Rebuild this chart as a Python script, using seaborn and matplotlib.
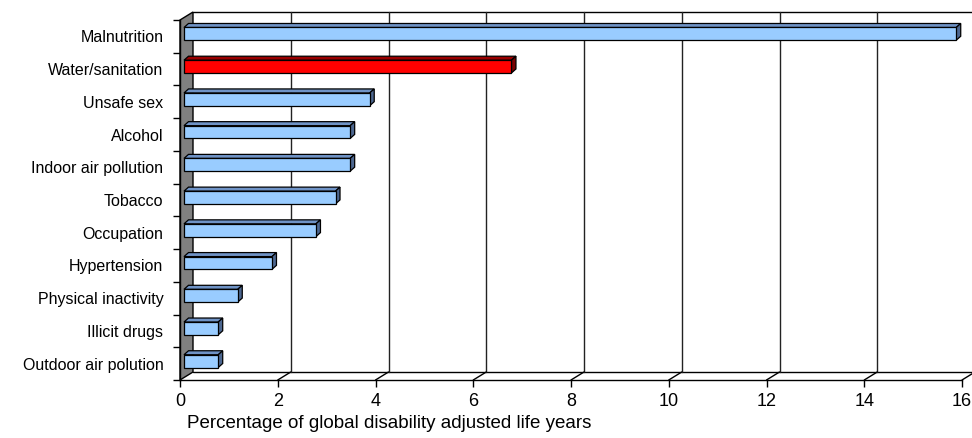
import numpy as np
import pandas as pd
import matplotlib
matplotlib.use('Agg')
import matplotlib.pyplot as plt
import matplotlib.transforms as mtransforms
from matplotlib.patches import Polygon
import seaborn as sns

# data
categories = ['Malnutrition', 'Water/sanitation', 'Unsafe sex', 'Alcohol',
              'Indoor air pollution', 'Tobacco', 'Occupation', 'Hypertension',
              'Physical inactivity', 'Illicit drugs', 'Outdoor air polution']
values = [15.8, 6.7, 3.8, 3.4, 3.4, 3.1, 2.7, 1.8, 1.1, 0.7, 0.7]
highlight = 'Water/sanitation'
xticks = [0, 2, 4, 6, 8, 10, 12, 14, 16]
xlabel = 'Percentage of global disability adjusted life years'

sns.set_style('white')
plt.rcParams['font.family'] = ['Liberation Sans', 'DejaVu Sans']
plt.rcParams['text.color'] = 'black'
plt.rcParams['axes.labelcolor'] = 'black'
plt.rcParams['xtick.color'] = 'black'
plt.rcParams['ytick.color'] = 'black'

df = pd.DataFrame({'risk': categories, 'pct': values})
front_col = {c: ('#ff0000' if c == highlight else '#99ccff') for c in categories}
top_col = {c: ('#990000' if c == highlight else '#6f93c6') for c in categories}
side_col = {c: ('#7a0000' if c == highlight else '#4d6790') for c in categories}

fig = plt.figure(figsize=(9.72, 4.38), dpi=100)
ax = fig.add_axes([180/972, 58/438, 782/972, 360/438])

sns.barplot(data=df, x='pct', y='risk', hue='risk', palette=front_col, legend=False,
            width=0.39, edgecolor='black', linewidth=0.9, saturation=1, orient='h', ax=ax)

ax.set_xlim(0, 16)
ax.set_ylim(10.5, -0.5)

# pixel -> data helpers for the fake depth
KX = 16/782
KY = 11/360
def P(x, y, dx, dy):
    return (x + dx*KX, y - dy*KY)

WX, WY = 13, 8        # wall depth in px
BF = (4, 2.5)         # bar front offset
BB = (8.5, 6.5)       # bar back offset

# grey side wall
ax.add_patch(Polygon([P(0, 10.5, 0, 0), P(0, -0.5, 0, 0), P(0, -0.5, WX, WY), P(0, 10.5, WX, WY)],
                     closed=True, facecolor='#808080', edgecolor='black', lw=1, zorder=0.5, clip_on=False))
# back wall top + floor back edge
for yy in (-0.5, 10.5):
    a, b = P(0, yy, WX, WY), P(16, yy, WX, WY)
    ax.plot([a[0], b[0]], [a[1], b[1]], color='black', lw=1, zorder=0.6, clip_on=False)
# gridlines on back wall and floor
for xt in xticks[1:]:
    a, b = P(xt, 10.5, WX, WY), P(xt, -0.5, WX, WY)
    ax.plot([a[0], b[0]], [a[1], b[1]], color='#222222', lw=1, zorder=0.6, clip_on=False)
    c = P(xt, 10.5, 0, 0)
    ax.plot([c[0], a[0]], [c[1], a[1]], color='black', lw=1, zorder=0.6, clip_on=False)

# bars: shift fronts and add top/side faces
shift = mtransforms.ScaledTranslation(BF[0]/100, BF[1]/100, fig.dpi_scale_trans)
bars = [p for p in ax.patches if not isinstance(p, Polygon)]
for p, cat in zip(bars, categories):
    y0, h, w = p.get_y(), p.get_height(), p.get_width()
    top = [P(0, y0, *BF), P(w, y0, *BF), P(w, y0, *BB), P(0, y0, *BB)]
    side = [P(w, y0, *BF), P(w, y0+h, *BF), P(w, y0+h, *BB), P(w, y0, *BB)]
    ax.add_patch(Polygon(top, closed=True, facecolor=top_col[cat], edgecolor='black', lw=0.9, zorder=2, clip_on=False))
    ax.add_patch(Polygon(side, closed=True, facecolor=side_col[cat], edgecolor='black', lw=0.9, zorder=2, clip_on=False))
    p.set_transform(ax.transData + shift)
    p.set_zorder(3)
    p.set_clip_on(False)

# axes styling
for s in ('top', 'right'):
    ax.spines[s].set_visible(False)
for s in ('left', 'bottom'):
    ax.spines[s].set_color('black')
    ax.spines[s].set_linewidth(1)
    ax.spines[s].set_zorder(4)

ax.set_xticks(xticks)
ax.set_xticklabels([str(t) for t in xticks], fontsize=13)
ax.tick_params(axis='x', which='major', direction='out', length=5, width=1, color='black', pad=4, bottom=True)
ax.set_yticks(range(len(categories)))
ax.set_yticklabels(categories, fontsize=11.5)
ax.set_yticks(np.arange(-0.5, len(categories), 1), minor=True)
ax.tick_params(axis='y', which='major', length=0, pad=12)
ax.tick_params(axis='y', which='minor', direction='out', length=5, width=1, color='black', left=True)
ax.set_ylabel('')
ax.set_xlabel(xlabel, fontsize=13.5, loc='left', labelpad=4)
ax.xaxis.label.set_x(7/782)

fig.savefig('out.png', dpi=100)
